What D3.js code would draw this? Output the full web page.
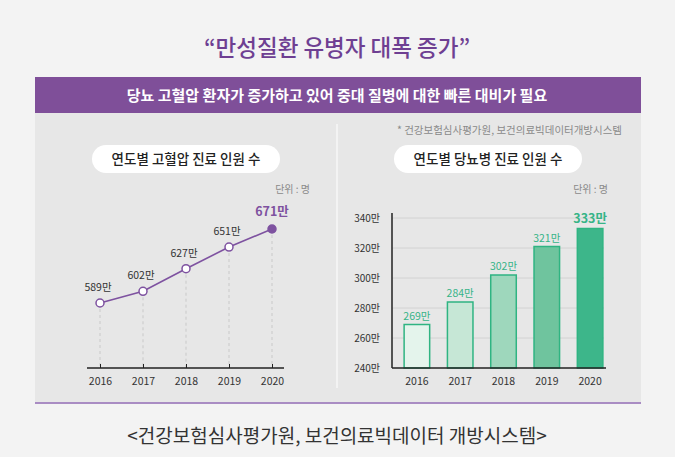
<!DOCTYPE html>
<html><head><meta charset="utf-8">
<script src="https://cdn.jsdelivr.net/npm/d3@7"></script>
<style>
html,body{margin:0;padding:0;background:#f3f3f3;}
svg{display:block;font-family:"Noto Sans CJK KR","Noto Sans",sans-serif;}
</style></head>
<body>
<svg id="c" width="675" height="457"></svg>
<script>
const years = ["2016","2017","2018","2019","2020"];
const hypertension = [589, 602, 627, 651, 671];
const diabetes = [269, 284, 302, 321, 333];
const diabetesTicks = [240, 260, 280, 300, 320, 340];
const barFills = ["#e4f4ec","#c6e7d6","#9ed7bc","#6fc49e","#3db68a"];
const title = "“만성질환 유병자 대폭 증가”";
const banner = "당뇨 고혈압 환자가 증가하고 있어 중대 질병에 대한 빠른 대비가 필요";
const sourceNote = "* 건강보험심사평가원, 보건의료빅데이터개방시스템";
const footer = "<건강보험심사평가원, 보건의료빅데이터 개방시스템>";
const leftTitle = "연도별 고혈압 진료 인원 수";
const rightTitle = "연도별 당뇨병 진료 인원 수";
const unitLabel = "단위 : 명";
const suffix = "만";

const svg = d3.select("#c");
svg.append("rect").attr("width",675).attr("height",457).attr("fill","#f3f3f3");

svg.append("text").attr("x",337).attr("y",56).attr("text-anchor","middle")
  .attr("font-size",22.5).attr("font-weight",500).attr("fill","#6e3f92").text(title);

svg.append("rect").attr("x",35).attr("y",77).attr("width",606).attr("height",36).attr("fill","#7f4f99");
svg.append("text").attr("x",337).attr("y",100.5).attr("text-anchor","middle")
  .attr("font-size",15).attr("font-weight",700).attr("fill","#fff").text(banner);

svg.append("rect").attr("x",35).attr("y",113).attr("width",606).attr("height",289).attr("fill","#e7e7e7");
svg.append("line").attr("x1",35).attr("x2",641).attr("y1",403).attr("y2",403).attr("stroke","#a98cc3").attr("stroke-width",2);

svg.append("line").attr("x1",337).attr("x2",337).attr("y1",124).attr("y2",388).attr("stroke","#f7f7f7").attr("stroke-width",1.5);

svg.append("text").attr("x",622).attr("y",134).attr("text-anchor","end")
  .attr("font-size",10.5).attr("fill","#8a8a8a").text(sourceNote);

svg.append("text").attr("x",337).attr("y",443).attr("text-anchor","middle")
  .attr("font-size",19).attr("fill","#333").text(footer);

function pill(cx, txt){
  svg.append("rect").attr("x",cx-94).attr("y",145).attr("width",188).attr("height",28).attr("rx",14).attr("fill","#fff");
  svg.append("text").attr("x",cx).attr("y",164).attr("text-anchor","middle")
    .attr("font-size",13.5).attr("font-weight",500).attr("fill","#222").text(txt);
}
pill(186, leftTitle);
pill(488, rightTitle);

svg.append("text").attr("x",310).attr("y",193).attr("text-anchor","end").attr("font-size",10).attr("fill","#8a8a8a").text(unitLabel);
svg.append("text").attr("x",608).attr("y",193).attr("text-anchor","end").attr("font-size",10).attr("fill","#8a8a8a").text(unitLabel);

// Left line chart
const xL = d3.scalePoint().domain(years).range([100,272]);
const yL = d3.scaleLinear().domain([517,671]).range([368,229]);
const gL = svg.append("g");
gL.selectAll("line.drop").data(years).join("line").attr("class","drop")
  .attr("x1",d=>xL(d)).attr("x2",d=>xL(d))
  .attr("y1",(d,i)=>yL(hypertension[i])).attr("y2",368)
  .attr("stroke","#c9c9c9").attr("stroke-dasharray","3,3").attr("stroke-width",1);
const axL = gL.append("g").attr("transform","translate(0,368)")
  .call(d3.axisBottom(xL).tickSize(0).tickPadding(10));
axL.select(".domain").remove();
axL.append("line").attr("x1",87).attr("x2",284).attr("stroke","#222").attr("stroke-width",1.5);
axL.selectAll(".tick line").remove();
axL.selectAll(".tick").append("line").attr("y1",0).attr("y2",-4).attr("stroke","#222");
axL.selectAll("text").attr("font-size",10.5).attr("fill","#333").attr("font-family","Noto Sans CJK KR");
const lineGen = d3.line().x((d,i)=>xL(years[i])).y(d=>yL(d));
gL.append("path").datum(hypertension).attr("d",lineGen).attr("fill","none").attr("stroke","#7e52a0").attr("stroke-width",1.6);
gL.selectAll("circle").data(hypertension).join("circle")
  .attr("cx",(d,i)=>xL(years[i])).attr("cy",d=>yL(d)).attr("r",4)
  .attr("fill",(d,i)=>i===hypertension.length-1?"#7e52a0":"#fff")
  .attr("stroke","#7e52a0").attr("stroke-width",1.5);
gL.selectAll("text.lbl").data(hypertension).join("text").attr("class","lbl")
  .attr("x",(d,i)=>xL(years[i]) + (i===hypertension.length-1?0:-2))
  .attr("y",(d,i)=>yL(d) - (i===hypertension.length-1?13:12))
  .attr("text-anchor","middle")
  .attr("font-size",(d,i)=>i===hypertension.length-1?12.5:10.5)
  .attr("font-weight",(d,i)=>i===hypertension.length-1?700:400)
  .attr("fill",(d,i)=>i===hypertension.length-1?"#7e52a0":"#333")
  .text(d=>d+suffix);

// Right bar chart
const xR = d3.scaleBand().domain(years).range([392,615]).paddingInner(0.41).paddingOuter(0.28);
const yR = d3.scaleLinear().domain([240,340]).range([368,218]);
const gR = svg.append("g");
gR.selectAll("line.grid").data(diabetesTicks.slice(1)).join("line").attr("class","grid")
  .attr("x1",392).attr("x2",604).attr("y1",d=>yR(d)).attr("y2",d=>yR(d))
  .attr("stroke","#d2d2d2").attr("stroke-width",1);
const ayR = gR.append("g").attr("transform","translate(392,0)")
  .call(d3.axisLeft(yR).tickValues(diabetesTicks).tickSize(0).tickPadding(12).tickFormat(d=>d+suffix));
ayR.select(".domain").remove();
ayR.selectAll("text").attr("font-size",10).attr("fill","#333").attr("font-family","Noto Sans CJK KR");
gR.append("line").attr("x1",392).attr("x2",392).attr("y1",213).attr("y2",368).attr("stroke","#222").attr("stroke-width",1.5);
gR.selectAll("rect.bar").data(diabetes).join("rect").attr("class","bar")
  .attr("x",(d,i)=>xR(years[i])).attr("width",xR.bandwidth())
  .attr("y",d=>yR(d)).attr("height",d=>368-yR(d))
  .attr("fill",(d,i)=>barFills[i]).attr("stroke","#2fb482").attr("stroke-width",1.5);
const axR = gR.append("g").attr("transform","translate(0,368)")
  .call(d3.axisBottom(xR).tickSize(0).tickPadding(10));
axR.select(".domain").remove();
axR.append("line").attr("x1",392).attr("x2",606).attr("stroke","#222").attr("stroke-width",1.5);
axR.selectAll("text").attr("font-size",10.5).attr("fill","#333").attr("font-family","Noto Sans CJK KR");
gR.selectAll("text.blbl").data(diabetes).join("text").attr("class","blbl")
  .attr("x",(d,i)=>xR(years[i])+xR.bandwidth()/2)
  .attr("y",(d,i)=>yR(d)-(i===diabetes.length-1?6:5))
  .attr("text-anchor","middle")
  .attr("font-size",(d,i)=>i===diabetes.length-1?12.5:10.5)
  .attr("font-weight",(d,i)=>i===diabetes.length-1?700:400)
  .attr("fill","#36b487")
  .text(d=>d+suffix);
</script>
</body></html>
